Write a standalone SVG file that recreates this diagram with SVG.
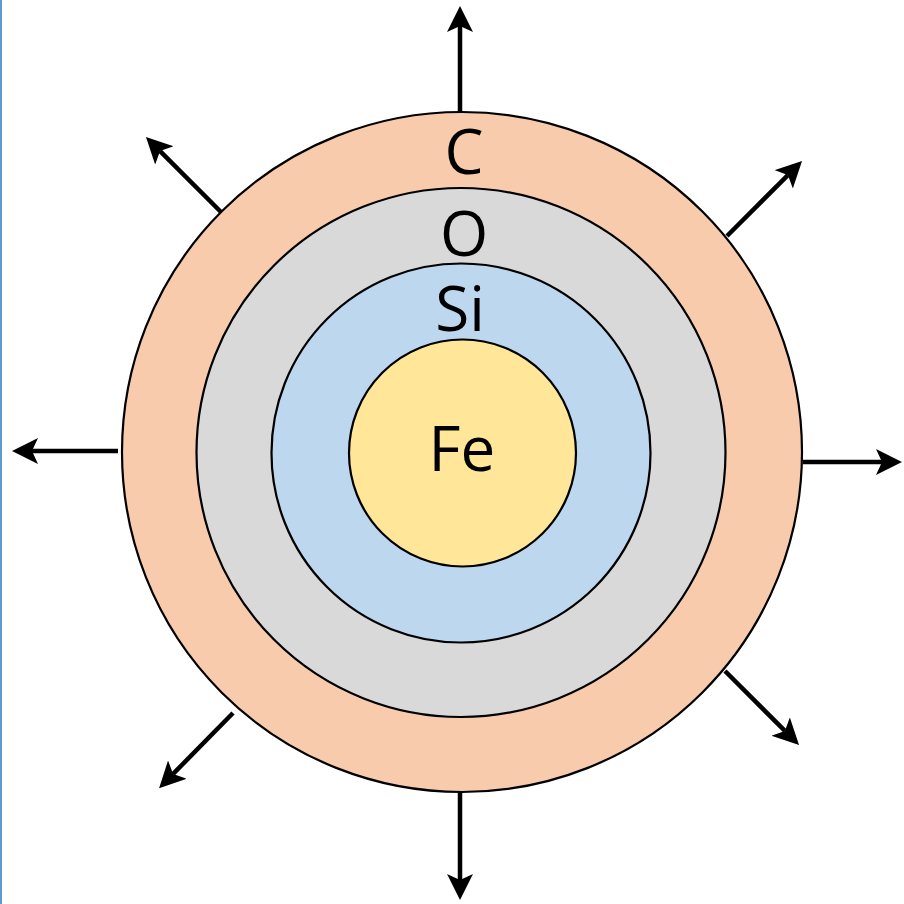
<svg xmlns="http://www.w3.org/2000/svg" width="904" height="904" viewBox="0 0 904 904">
<style>
.ring{stroke:#000;stroke-width:2.2}
.lbl{font-family:"Open Sans","Noto Sans",sans-serif;font-size:62px;fill:#000;text-anchor:middle}
.arr{stroke:#000;stroke-width:4.5;fill:none;marker-end:url(#ah)}
</style>
<defs>
<marker id="ah" markerUnits="userSpaceOnUse" markerWidth="27" markerHeight="27" refX="6" refY="13" orient="auto" viewBox="0 0 27 27">
<path d="M26,13 L0,0 L6,13 L0,26 Z" fill="#000"/>
</marker>
</defs>
<rect x="0" y="0" width="904" height="904" fill="#fff"/>
<rect x="0" y="0" width="2" height="904" fill="#5B9BD5"/>
<g id="C"><circle class="ring" cx="462" cy="452" r="340" fill="#F8CBAD"/><text class="lbl" x="464" y="174">C</text></g>
<g id="O"><circle class="ring" cx="461" cy="452.5" r="264.5" fill="#D9D9D9"/><text class="lbl" x="464" y="256">O</text></g>
<g id="Si"><circle class="ring" cx="461" cy="453" r="189.5" fill="#BDD7EE"/><text class="lbl" x="460" y="331">Si</text></g>
<g id="Fe"><circle class="ring" cx="462.5" cy="453" r="113.5" fill="#FFE699"/><text class="lbl" x="462" y="471">Fe</text></g>
<g id="connectors">
<line class="arr" x1="460" y1="112" x2="460" y2="26"/>
<line class="arr" x1="460" y1="793" x2="460" y2="880"/>
<line class="arr" x1="118" y1="451" x2="32" y2="451"/>
<line class="arr" x1="803" y1="462" x2="882" y2="462"/>
<line class="arr" x1="221" y1="212" x2="160.1" y2="151.1"/>
<line class="arr" x1="727" y1="236" x2="787.9" y2="175.1"/>
<line class="arr" x1="233" y1="713" x2="173.1" y2="773.9"/>
<line class="arr" x1="725" y1="671" x2="784.9" y2="730.9"/>
</g>
</svg>
